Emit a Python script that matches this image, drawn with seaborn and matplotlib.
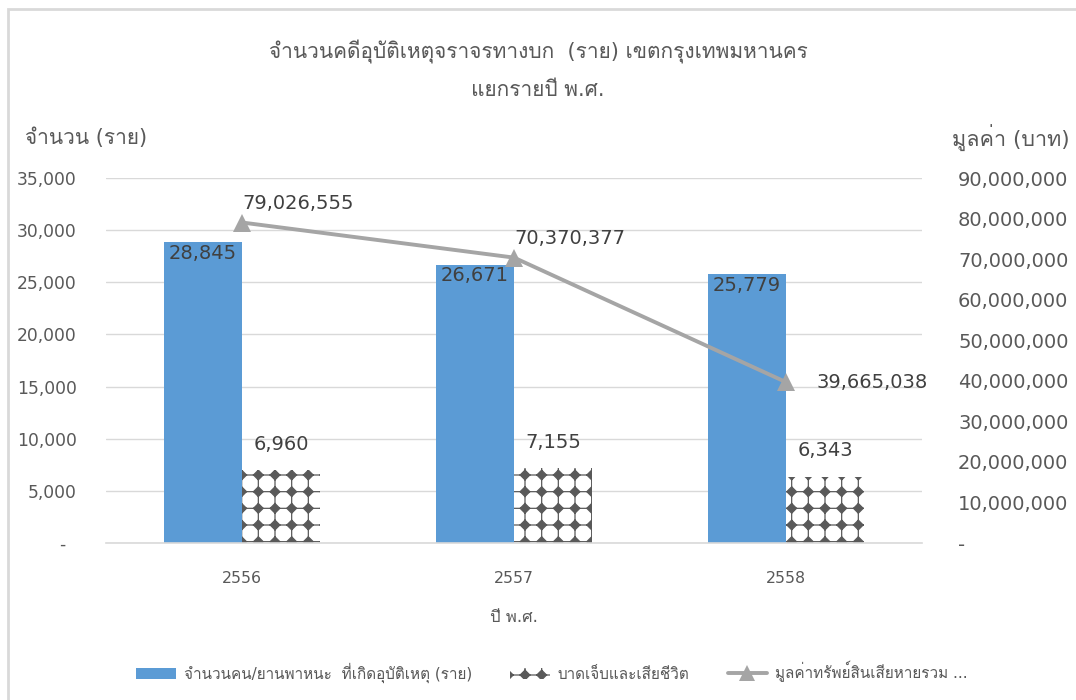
import matplotlib
matplotlib.use("Agg")
import numpy as np
import pandas as pd
import seaborn as sns
import matplotlib.pyplot as plt
import matplotlib.hatch as mhatch
from matplotlib.path import Path
from matplotlib import font_manager, ft2font
from matplotlib.patches import Patch, Rectangle
from matplotlib.lines import Line2D
from matplotlib.ticker import FuncFormatter, MultipleLocator

# ---------------- data ----------------
years = ["2556", "2557", "2558"]
vehicles = [28845, 26671, 25779]
casualties = [6960, 7155, 6343]
damage = [79026555, 70370377, 39665038]
series_names = ["จำนวนคน/ยานพาหนะ  ที่เกิดอุบัติเหตุ (ราย)",
                "บาดเจ็บและเสียชีวิต",
                "มูลค่าทรัพย์สินเสียหายรวม ..."]
title_lines = ["จำนวนคดีอุบัติเหตุจราจรทางบก  (ราย) เขตกรุงเทพมหานคร",
               "แยกรายปี พ.ศ."]
left_title = "จำนวน (ราย)"
right_title = "มูลค่า (บาท)"
x_title = "ปี พ.ศ."

# ---------------- fonts ----------------
thai_font = None
for f in font_manager.fontManager.ttflist:
    try:
        ft = ft2font.FT2Font(f.fname)
        if ft.get_char_index(0x0E08) and ft.get_char_index(0x0E33) and ft.get_char_index(0x0E1E):
            thai_font = f.name
            break
    except Exception:
        pass


# ---------------- diamond-grid hatch (replaces the '*' pattern) ----------------
class DiamondGrid(mhatch.HatchPatternBase):
    def __init__(self, hatch, density):
        self.num_rows = hatch.count("*") * density
        n = self.num_rows
        self.num_vertices = 5 * n * n if n else 0

    def set_vertices_and_codes(self, vertices, codes):
        n = self.num_rows
        r = 0.29 / n
        shape = np.array([[0, -r], [r, 0], [0, r], [-r, 0], [0, -r]])
        sc = np.array([Path.MOVETO, Path.LINETO, Path.LINETO, Path.LINETO, Path.CLOSEPOLY],
                      dtype=Path.code_type)
        k = 0
        for i in range(n):
            for j in range(n):
                vertices[k:k + 5] = shape + [(j + 0.5) / n, (i + 0.5) / n]
                codes[k:k + 5] = sc
                k += 5


mhatch._hatch_types = [t for t in mhatch._hatch_types if t is not mhatch.Stars] + [DiamondGrid]

sns.set_theme(style="white")
families = ["DejaVu Sans"] + ([thai_font] if thai_font else [])
plt.rcParams["font.family"] = families
plt.rcParams["hatch.color"] = "#595959"
plt.rcParams["hatch.linewidth"] = 0.9

TXT = "#595959"
LBL = "#404040"
HATCH = "+*"

fig = plt.figure(figsize=(10.76, 7.0), dpi=100)
ax = fig.add_axes([106 / 1076, 1 - 543 / 700, 816 / 1076, 365 / 700])

df = pd.DataFrame({
    "year": years * 2,
    "value": vehicles + casualties,
    "series": [series_names[0]] * 3 + [series_names[1]] * 3,
})
bw = 0.574
sns.barplot(data=df, x="year", y="value", hue="series",
            palette=["#5b9bd5", "white"], width=bw, gap=0, saturation=1,
            legend=False, ax=ax, zorder=2)
for p in ax.containers[1]:
    p.set_hatch(HATCH)
    p.set_edgecolor("#595959")
    p.set_linewidth(0)
for p in ax.containers[0]:
    p.set_edgecolor("none")

ax.set_ylim(0, 35000)
ax.yaxis.set_major_locator(MultipleLocator(5000))
ax.yaxis.set_major_formatter(FuncFormatter(lambda v, p: "-  " if v == 0 else f"{int(v):,}"))
ax.grid(axis="y", color="#d9d9d9", lw=1, zorder=0)
ax.grid(axis="x", visible=False)
for s in ["top", "left", "right"]:
    ax.spines[s].set_visible(False)
ax.spines["bottom"].set_color("#d9d9d9")
ax.spines["bottom"].set_linewidth(1.2)
ax.tick_params(axis="y", length=0, pad=21, labelsize=12.3, labelcolor=TXT)
ax.tick_params(axis="x", length=0, pad=20, labelsize=11.3, labelcolor=TXT)
ax.set_xlabel(x_title, fontsize=12, color=TXT, labelpad=16)
ax.set_ylabel("")

# bar labels
xs = np.arange(len(years))
for i, v in enumerate(vehicles):
    ax.annotate(f"{v:,}", (xs[i] - bw / 4, v), xytext=(0, -11), textcoords="offset pixels",
                ha="center", va="center", fontsize=14, color=LBL, zorder=5)
for i, v in enumerate(casualties):
    ax.annotate(f"{v:,}", (xs[i] + bw / 4, v), xytext=(0, 26), textcoords="offset pixels",
                ha="center", va="center", fontsize=14, color=LBL, zorder=5)

# line on secondary axis
ax2 = ax.twinx()
sns.lineplot(x=xs, y=damage, ax=ax2, color="#a5a5a5", lw=2.8, marker="^",
             markersize=13, markeredgewidth=0, zorder=4)
ax2.set_ylim(0, 90000000)
ax2.yaxis.set_major_locator(MultipleLocator(10000000))
ax2.yaxis.set_major_formatter(FuncFormatter(lambda v, p: "-" if v == 0 else f"{int(v):,}"))
ax2.tick_params(axis="y", length=0, pad=26, labelsize=14, labelcolor=TXT)
ax2.grid(False)
for s in ["top", "left", "right", "bottom"]:
    ax2.spines[s].set_visible(False)
ax2.set_ylabel("")
line_offsets = [(0, 19), (0, 19), (31, 0)]
for i, v in enumerate(damage):
    ax2.annotate(f"{v:,}", (xs[i], v), xytext=line_offsets[i], textcoords="offset pixels",
                 ha="left", va="center", fontsize=14, color=LBL, zorder=6)
ax.set_xlim(-0.5, 2.5)

# titles
fig.text(538 / 1076, 1 - 52 / 700, title_lines[0], ha="center", va="center", fontsize=15, color=TXT)
fig.text(538 / 1076, 1 - 90 / 700, title_lines[1], ha="center", va="center", fontsize=15, color=TXT)
fig.text(25 / 1076, 1 - 138 / 700, left_title, ha="left", va="center", fontsize=15, color=TXT)
fig.text(1070 / 1076, 1 - 138 / 700, right_title, ha="right", va="center", fontsize=15.5, color=TXT)

# legend
handles = [Patch(facecolor="#5b9bd5", edgecolor="none"),
           Patch(facecolor="white", edgecolor="#595959", hatch=HATCH, linewidth=0),
           Line2D([], [], color="#a5a5a5", lw=2.8, marker="^", markersize=11, markeredgewidth=0)]
fig.legend(handles, series_names, loc="center", bbox_to_anchor=(552 / 1076, 1 - 672 / 700),
           ncol=3, frameon=False, fontsize=11, labelcolor=TXT, handlelength=2.6,
           columnspacing=2.5, handletextpad=0.5)

# chart border
fig.patches.append(Rectangle((8 / 1076, -0.1), 1.2, 1.1 - 9 / 700, transform=fig.transFigure,
                             fill=False, edgecolor="#d9d9d9", lw=2, clip_on=False))

fig.savefig("out.png", dpi=100)
